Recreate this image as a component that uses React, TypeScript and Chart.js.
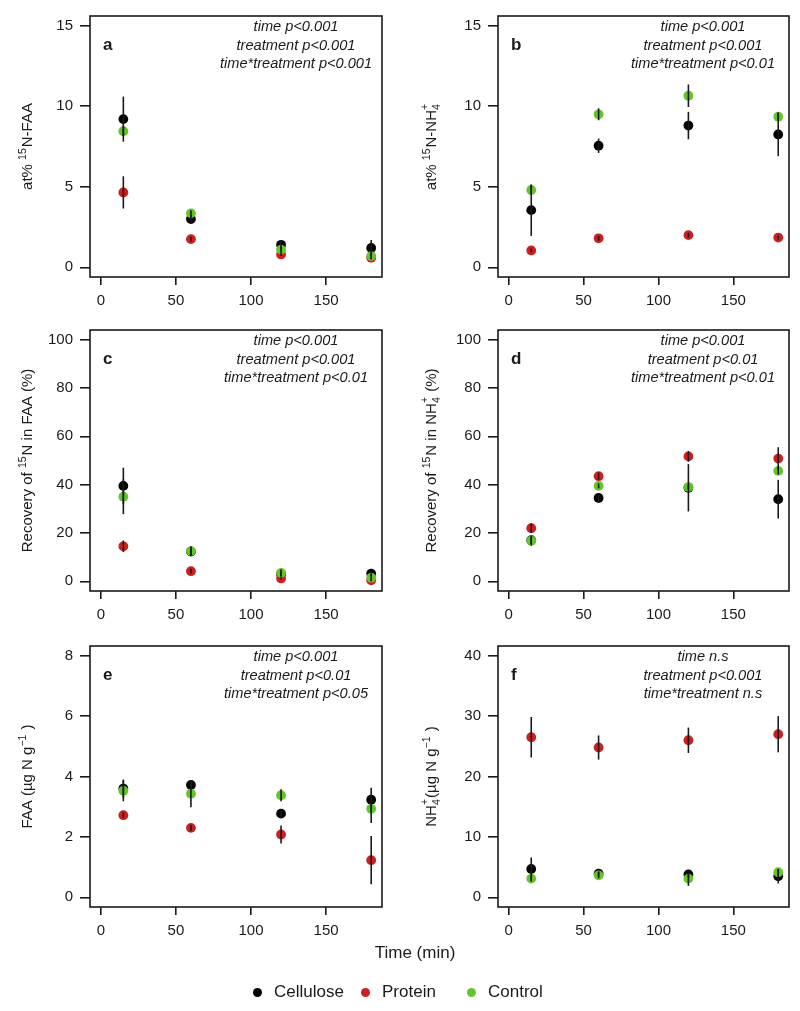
import React, { useEffect, useRef } from "react";
import { Chart, registerables } from "chart.js";

Chart.register(...registerables);

const FONT = '"Liberation Sans", Arial, Helvetica, sans-serif';

// ---------- data ----------
const times = [15, 60, 120, 180];
const xTicks = [0, 50, 100, 150];
const seriesNames = ["Cellulose", "Protein", "Control"];
const seriesColors = ["#000000", "#CC1F1F", "#63C52B"];

// panel a: at% 15N-FAA
const aCellulose = [9.2, 3.0, 1.4, 1.2];
const aCelluloseErr = [1.4, 0.25, 0.3, 0.5];
const aProtein = [4.65, 1.75, 0.8, 0.6];
const aProteinErr = [1.0, 0.15, 0.1, 0.1];
const aControl = [8.45, 3.35, 1.1, 0.7];
const aControlErr = [0.3, 0.2, 0.2, 0.2];
const aTicks = [0, 5, 10, 15];

// panel b: at% 15N-NH4+
const bCellulose = [3.55, 7.55, 8.8, 8.25];
const bCelluloseErr = [1.6, 0.45, 0.85, 1.35];
const bProtein = [1.05, 1.8, 2.0, 1.85];
const bProteinErr = [0.12, 0.15, 0.15, 0.12];
const bControl = [4.8, 9.5, 10.65, 9.35];
const bControlErr = [0.3, 0.37, 0.7, 0.25];
const bTicks = [0, 5, 10, 15];

// panel c: recovery of 15N in FAA (%)
const cCellulose = [39.5, 12.3, 3.0, 3.2];
const cCelluloseErr = [7.5, 1.5, 1.0, 1.0];
const cProtein = [14.5, 4.2, 1.2, 0.4];
const cProteinErr = [2.4, 1.0, 0.5, 0.3];
const cControl = [35.0, 12.5, 3.5, 1.5];
const cControlErr = [7.2, 2.0, 1.5, 1.5];
const cTicks = [0, 20, 40, 60, 80, 100];

// panel d: recovery of 15N in NH4+ (%)
const dCellulose = [17.0, 34.5, 38.7, 34.0];
const dCelluloseErr = [1.5, 2.0, 9.8, 8.0];
const dProtein = [22.0, 43.5, 51.7, 50.8];
const dProteinErr = [2.0, 1.5, 2.2, 4.7];
const dControl = [16.8, 39.5, 39.0, 45.7];
const dControlErr = [2.0, 1.0, 1.0, 1.5];
const dTicks = [0, 20, 40, 60, 80, 100];

// panel e: FAA (ug N g-1)
const eCellulose = [3.6, 3.72, 2.77, 3.23];
const eCelluloseErr = [0.3, 0.15, 0.1, 0.4];
const eProtein = [2.72, 2.3, 2.08, 1.23];
const eProteinErr = [0.1, 0.1, 0.3, 0.8];
const eControl = [3.53, 3.43, 3.38, 2.93];
const eControlErr = [0.35, 0.45, 0.2, 0.47];
const eTicks = [0, 2, 4, 6, 8];

// panel f: NH4+ (ug N g-1)
const fCellulose = [4.7, 3.9, 3.8, 3.5];
const fCelluloseErr = [1.9, 0.4, 0.5, 1.2];
const fProtein = [26.5, 24.8, 26.0, 27.0];
const fProteinErr = [3.35, 2.0, 2.1, 3.0];
const fControl = [3.1, 3.65, 3.1, 4.15];
const fControlErr = [0.5, 0.5, 1.2, 0.5];
const fTicks = [0, 10, 20, 30, 40];

const aStats = ["time p<0.001", "treatment p<0.001", "time*treatment p<0.001"];
const bStats = ["time p<0.001", "treatment p<0.001", "time*treatment p<0.01"];
const cStats = ["time p<0.001", "treatment p<0.001", "time*treatment p<0.01"];
const dStats = ["time p<0.001", "treatment p<0.01", "time*treatment p<0.01"];
const eStats = ["time p<0.001", "treatment p<0.01", "time*treatment p<0.05"];
const fStats = ["time n.s", "treatment p<0.001", "time*treatment n.s"];

type Seg = { t?: string; sup?: string; sub?: string };

const aLabel: Seg[] = [{ t: "at% " }, { sup: "15" }, { t: "N-FAA" }];
const bLabel: Seg[] = [{ t: "at% " }, { sup: "15" }, { t: "N-NH" }, { sub: "4", sup: "+" }];
const cLabel: Seg[] = [{ t: "Recovery of " }, { sup: "15" }, { t: "N in FAA (%)" }];
const dLabel: Seg[] = [{ t: "Recovery of " }, { sup: "15" }, { t: "N in NH" }, { sub: "4", sup: "+" }, { t: " (%)" }];
const eLabel: Seg[] = [{ t: "FAA (\u00B5g N g" }, { sup: "\u22121" }, { t: " )" }];
const fLabel: Seg[] = [{ t: "NH" }, { sub: "4", sup: "+" }, { t: "(\u00B5g N g" }, { sup: "\u22121" }, { t: " )" }];

type Panel = {
  letter: string;
  series: number[][];
  errs: number[][];
  yTicks: number[];
  stats: string[];
  label: Seg[];
  col: number;
  row: number;
};

const panels: Panel[] = [
  { letter: "a", series: [aCellulose, aProtein, aControl], errs: [aCelluloseErr, aProteinErr, aControlErr], yTicks: aTicks, stats: aStats, label: aLabel, col: 0, row: 0 },
  { letter: "b", series: [bCellulose, bProtein, bControl], errs: [bCelluloseErr, bProteinErr, bControlErr], yTicks: bTicks, stats: bStats, label: bLabel, col: 1, row: 0 },
  { letter: "c", series: [cCellulose, cProtein, cControl], errs: [cCelluloseErr, cProteinErr, cControlErr], yTicks: cTicks, stats: cStats, label: cLabel, col: 0, row: 1 },
  { letter: "d", series: [dCellulose, dProtein, dControl], errs: [dCelluloseErr, dProteinErr, dControlErr], yTicks: dTicks, stats: dStats, label: dLabel, col: 1, row: 1 },
  { letter: "e", series: [eCellulose, eProtein, eControl], errs: [eCelluloseErr, eProteinErr, eControlErr], yTicks: eTicks, stats: eStats, label: eLabel, col: 0, row: 2 },
  { letter: "f", series: [fCellulose, fProtein, fControl], errs: [fCelluloseErr, fProteinErr, fControlErr], yTicks: fTicks, stats: fStats, label: fLabel, col: 1, row: 2 },
];

// ---------- layout ----------
const CANVAS_W = 400;
const CANVAS_H = 314;
const ROW_TOPS = [0, 314, 630];
const COL_LEFTS = [0, 400];
const Y_AXIS_W = [90, 98];
const RIGHT_PAD = [18, 11];
const TOP_PAD = 14;
const X_AXIS_H = 37;
const TITLE_BASE_X = [32, 36];

const INK = "#1a1a1a";

function drawRich(ctx: CanvasRenderingContext2D, segs: Seg[], x: number, cy: number) {
  const main = `15px ${FONT}`;
  const small = `10.5px ${FONT}`;
  const widths = segs.map((s) => {
    if (s.t !== undefined) {
      ctx.font = main;
      return ctx.measureText(s.t).width;
    }
    ctx.font = small;
    return Math.max(s.sup ? ctx.measureText(s.sup).width : 0, s.sub ? ctx.measureText(s.sub).width : 0) + 1;
  });
  const total = widths.reduce((a, b) => a + b, 0);
  ctx.save();
  ctx.translate(x, cy);
  ctx.rotate(-Math.PI / 2);
  ctx.fillStyle = INK;
  ctx.textBaseline = "alphabetic";
  ctx.textAlign = "left";
  let pos = -total / 2;
  segs.forEach((s, i) => {
    if (s.t !== undefined) {
      ctx.font = main;
      ctx.fillText(s.t, pos, 0);
    } else {
      ctx.font = small;
      if (s.sup) ctx.fillText(s.sup, pos, s.sub ? -8 : -6.5);
      if (s.sub) ctx.fillText(s.sub, pos, 4);
    }
    pos += widths[i];
  });
  ctx.restore();
}

function PanelChart({ p }: { p: Panel }) {
  const ref = useRef<HTMLCanvasElement | null>(null);
  useEffect(() => {
    if (!ref.current) return;
    const yMax = p.yTicks[p.yTicks.length - 1];
    const yMin = p.yTicks[0];
    const yr = yMax - yMin;

    const decorPlugin = {
      id: "decor",
      afterDatasetsDraw(chart: any) {
        const ctx: CanvasRenderingContext2D = chart.ctx;
        const xs = chart.scales.x;
        const ys = chart.scales.y;
        ctx.save();
        ctx.strokeStyle = INK;
        ctx.lineWidth = 1.6;
        p.series.forEach((vals, si) => {
          vals.forEach((v, i) => {
            const e = p.errs[si][i];
            const px = xs.getPixelForValue(times[i]);
            ctx.beginPath();
            ctx.moveTo(px, ys.getPixelForValue(v - e));
            ctx.lineTo(px, ys.getPixelForValue(v + e));
            ctx.stroke();
          });
        });
        ctx.restore();
      },
      afterDraw(chart: any) {
        const ctx: CanvasRenderingContext2D = chart.ctx;
        const a = chart.chartArea;
        ctx.save();
        ctx.strokeStyle = INK;
        ctx.lineWidth = 1.6;
        ctx.strokeRect(a.left, a.top, a.right - a.left, a.bottom - a.top);
        // panel letter
        ctx.fillStyle = INK;
        ctx.font = `bold 17px ${FONT}`;
        ctx.textAlign = "left";
        ctx.textBaseline = "alphabetic";
        ctx.fillText(p.letter, a.left + 13, a.top + 34);
        // stats
        ctx.font = `italic 14.6px ${FONT}`;
        ctx.textAlign = "center";
        ctx.textBaseline = "middle";
        const cx = a.right - 86;
        p.stats.forEach((s, i) => ctx.fillText(s, cx, a.top + 11 + i * 18.5));
        ctx.restore();
        drawRich(ctx, p.label, TITLE_BASE_X[p.col], (a.top + a.bottom) / 2);
      },
    };

    const chart = new Chart(ref.current, {
      type: "scatter",
      data: {
        datasets: p.series.map((vals, si) => ({
          label: seriesNames[si],
          data: vals.map((v, i) => ({ x: times[i], y: v })),
          backgroundColor: seriesColors[si],
          borderColor: seriesColors[si],
          borderWidth: 0,
          pointRadius: 4.9,
          pointHoverRadius: 4.9,
          showLine: false,
          order: p.series.length - si,
        })),
      },
      options: {
        animation: false,
        responsive: false,
        maintainAspectRatio: false,
        layout: { padding: { top: TOP_PAD, right: RIGHT_PAD[p.col], left: 0, bottom: 0 } },
        plugins: { legend: { display: false }, tooltip: { enabled: false } },
        scales: {
          x: {
            type: "linear",
            min: -7.2,
            max: 187.2,
            afterBuildTicks: (s: any) => {
              s.ticks = xTicks.map((v) => ({ value: v }));
            },
            afterFit: (s: any) => {
              s.height = X_AXIS_H;
            },
            grid: { drawOnChartArea: false, drawTicks: true, tickLength: 8, color: INK, lineWidth: 1.6 },
            border: { display: false },
            ticks: { font: { size: 15, family: FONT }, color: INK, padding: 7, maxRotation: 0, autoSkip: false },
          },
          y: {
            type: "linear",
            min: yMin - 0.04 * yr,
            max: yMax + 0.04 * yr,
            afterBuildTicks: (s: any) => {
              s.ticks = p.yTicks.map((v) => ({ value: v }));
            },
            afterFit: (s: any) => {
              s.width = Y_AXIS_W[p.col];
            },
            grid: { drawOnChartArea: false, drawTicks: true, tickLength: 10, color: INK, lineWidth: 1.6 },
            border: { display: false },
            ticks: { font: { size: 15, family: FONT }, color: INK, padding: 7, autoSkip: false },
          },
        },
      },
      plugins: [decorPlugin],
    } as any);
    return () => chart.destroy();
  }, [p]);
  return (
    <canvas
      ref={ref}
      width={CANVAS_W}
      height={CANVAS_H}
      style={{
        position: "absolute",
        left: COL_LEFTS[p.col],
        top: ROW_TOPS[p.row],
        width: CANVAS_W,
        height: CANVAS_H,
      }}
    />
  );
}

const legendDotX = [257, 365, 471];
const legendTextX = [274, 382, 488];

export default function App() {
  return (
    <div
      style={{
        position: "absolute",
        left: 0,
        top: 0,
        width: 800,
        height: 1011,
        background: "#fff",
        fontFamily: FONT,
        color: INK,
      }}
    >
      {panels.map((p) => (
        <PanelChart key={p.letter} p={p} />
      ))}
      <div
        style={{
          position: "absolute",
          left: 315,
          top: 942,
          width: 200,
          textAlign: "center",
          fontSize: 17,
          lineHeight: "22px",
        }}
      >
        Time (min)
      </div>
      {seriesNames.map((n, i) => (
        <React.Fragment key={n}>
          <span
            style={{
              position: "absolute",
              left: legendDotX[i] - 4.5,
              top: 992 - 4.5,
              width: 9,
              height: 9,
              borderRadius: "50%",
              background: seriesColors[i],
            }}
          />
          <span
            style={{
              position: "absolute",
              left: legendTextX[i],
              top: 981,
              fontSize: 17,
              lineHeight: "22px",
              whiteSpace: "nowrap",
            }}
          >
            {n}
          </span>
        </React.Fragment>
      ))}
    </div>
  );
}
